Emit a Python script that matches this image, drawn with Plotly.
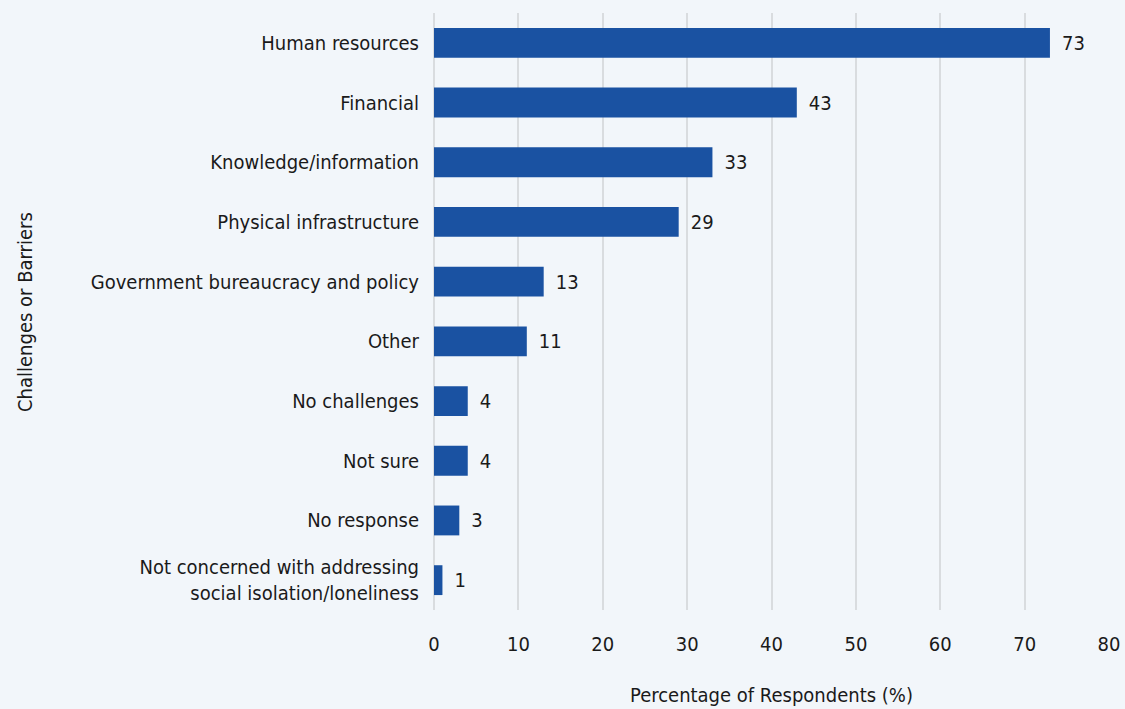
import plotly.graph_objects as go

# Survey responses: challenges or barriers reported
categories = [
    "Human resources",
    "Financial",
    "Knowledge/information",
    "Physical infrastructure",
    "Government bureaucracy and policy",
    "Other",
    "No challenges",
    "Not sure",
    "No response",
    "Not concerned with addressing<br>social isolation/loneliness",
]
values = [73, 43, 33, 29, 13, 11, 4, 4, 3, 1]
x_ticks = [0, 10, 20, 30, 40, 50, 60, 70, 80]

FONT = "DejaVu Sans Condensed, sans-serif"
BAR = "#1a52a2"
BG = "#f2f6fa"
TXT = "#1a1a1a"
FS = 20

L, R, T, B = 434, 16, 13, 99
W, H = 1125, 709
plot_w = W - L - R
plot_h = H - T - B

fig = go.Figure(
    go.Bar(
        x=values,
        y=categories,
        orientation="h",
        marker=dict(color=BAR, line=dict(width=0)),
        text=[str(v) for v in values],
        texttemplate="\u2002%{text}",
        textposition="outside",
        textfont=dict(family=FONT, size=FS, color=TXT),
        cliponaxis=False,
        hoverinfo="skip",
    )
)

fig.update_layout(
    width=W,
    height=H,
    paper_bgcolor=BG,
    plot_bgcolor=BG,
    margin=dict(l=L, r=R, t=T, b=B, autoexpand=False),
    bargap=0.5,
    showlegend=False,
    font=dict(family=FONT, size=FS, color=TXT),
)

fig.update_xaxes(
    range=[0, 80],
    tickvals=x_ticks,
    showgrid=True,
    gridcolor="#d9dcdf",
    gridwidth=2,
    zeroline=True,
    zerolinecolor="#d9dcdf",
    zerolinewidth=2,
    showline=False,
    ticks="",
    ticklabelstandoff=20,
    tickfont=dict(family=FONT, size=FS, color=TXT),
    automargin=False,
)

fig.update_yaxes(
    categoryorder="array",
    categoryarray=categories[::-1],
    showgrid=False,
    ticks="",
    ticklabelstandoff=14,
    tickfont=dict(family=FONT, size=FS, color=TXT),
    automargin=False,
)

# Axis titles
fig.add_annotation(
    text="Percentage of Respondents (%)",
    xref="paper", yref="paper",
    x=0.5, y=-(695 - (T + plot_h)) / plot_h,
    xanchor="center", yanchor="middle",
    showarrow=False,
    font=dict(family=FONT, size=FS, color=TXT),
)
fig.add_annotation(
    text="Challenges or Barriers",
    xref="paper", yref="paper",
    x=(25 - L) / plot_w, y=(H - B - 312) / plot_h,
    xanchor="center", yanchor="middle",
    textangle=-90,
    showarrow=False,
    font=dict(family=FONT, size=FS, color=TXT),
)

fig.write_html("out.html")
